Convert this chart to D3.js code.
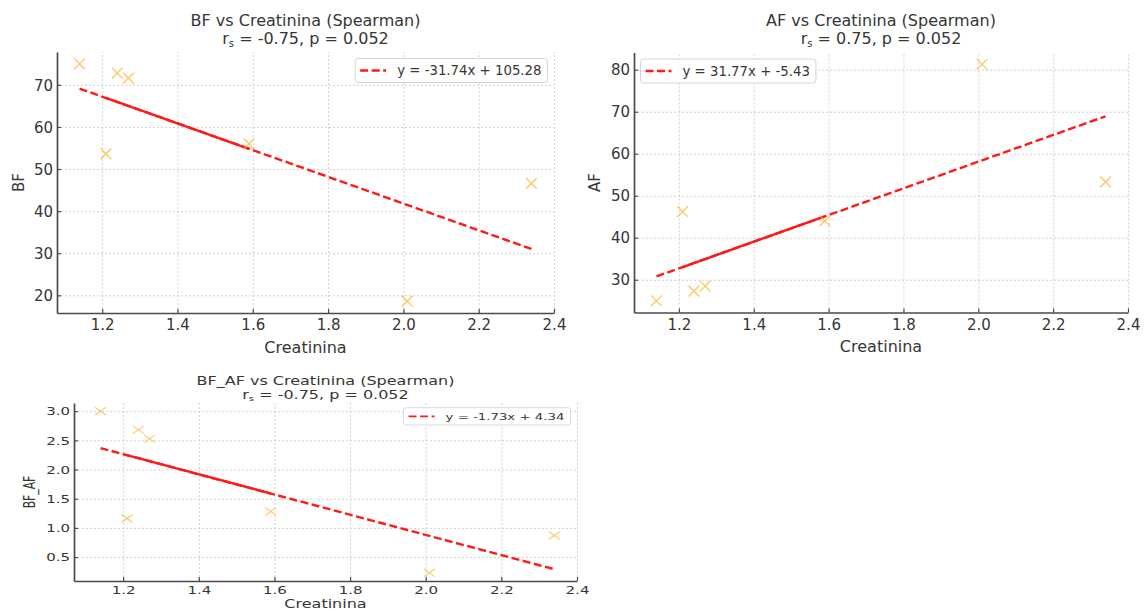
<!DOCTYPE html>
<html>
<head>
<meta charset="utf-8">
<script src="https://cdn.jsdelivr.net/npm/d3@7"></script>
<style>
  body { margin: 0; background: #fff; }
  svg text { font-family: "DejaVu Sans", sans-serif; fill: #363636; }
  .grid line { stroke: #cdcdcd; stroke-dasharray: 2,2; stroke-width: 0.9; }
  .grid .domain { display: none; }
  .axis path { stroke: #4a4a4a; stroke-width: 1.7; }
  .axis line { stroke: #4a4a4a; stroke-width: 1.2; }
</style>
</head>
<body>
<svg id="chart" width="1146" height="611"></svg>
<script>
// values
const creatinina = [1.14, 1.21, 1.24, 1.27, 1.59, 2.01, 2.34];
const bf = [75.0, 53.6, 72.8, 71.6, 56.0, 18.6, 46.6];
const af = [25.0, 46.2, 27.3, 28.5, 44.0, 81.3, 53.3];
const bfAf = [3.00, 1.16, 2.68, 2.53, 1.28, 0.23, 0.87];

const seriesNames = ['BF', 'AF', 'BF_AF'];
const slopes = [-31.74, 31.77, -1.73];
const intercepts = [105.28, -5.43, 4.34];
const legendLabels = ['y = -31.74x + 105.28', 'y = 31.77x + -5.43', 'y = -1.73x + 4.34'];
const spearmanR = ['-0.75', '0.75', '-0.75'];
const pValues = ['0.052', '0.052', '0.052'];

const xTicks = [1.2, 1.4, 1.6, 1.8, 2.0, 2.2, 2.4];
const bfTicks = [20, 30, 40, 50, 60, 70];
const afTicks = [30, 40, 50, 60, 70, 80];
const bfAfTicks = [0.5, 1.0, 1.5, 2.0, 2.5, 3.0];
// stretch of the fitted line that looks solid in the picture
const solidRange = [1.21, 1.59];

class ScatterPanel {

  constructor(_config, _data) {
    this.config = {
      parentElement: _config.parentElement,
      box: _config.box,
      xDomain: _config.xDomain,
      yDomain: _config.yDomain,
      yTicks: _config.yTicks,
      yFormat: _config.yFormat,
      squash: _config.squash || 1,
      titleY: _config.titleY,
      yLabelX: _config.yLabelX,
      xLabelY: _config.xLabelY,
      xTickOffset: _config.xTickOffset,
      legendSide: _config.legendSide
    };
    this.data = _data;
    this.initVis();
  }

  // text that follows the vertical squash of the panel
  addText(parent, x, y, str, size, anchor, rotate) {
    let k = this.config.squash;
    return parent.append('text')
        .attr('transform', `translate(${x},${y}) scale(1,${k})` + (rotate ? ' rotate(-90)' : ''))
        .attr('text-anchor', anchor || 'middle')
        .attr('dy', '0.35em')
        .style('font-size', size + 'px')
        .text(str);
  }

  initVis() {
    let vis = this;
    let b = vis.config.box;
    let k = vis.config.squash;

    vis.width = b.right - b.left;
    vis.height = b.bottom - b.top;

    vis.xScale = d3.scaleLinear().domain(vis.config.xDomain).range([0, vis.width]);
    vis.yScale = d3.scaleLinear().domain(vis.config.yDomain).range([vis.height, 0]);

    vis.svg = d3.select(vis.config.parentElement);
    vis.chart = vis.svg.append('g')
        .attr('transform', `translate(${b.left},${b.top})`);

    // gridlines
    vis.chart.append('g')
        .attr('class', 'grid')
        .attr('transform', `translate(0,${vis.height})`)
        .call(d3.axisBottom(vis.xScale).tickValues(xTicks).tickSize(-vis.height).tickFormat(''));
    vis.chart.append('g')
        .attr('class', 'grid')
        .call(d3.axisLeft(vis.yScale).tickValues(vis.config.yTicks).tickSize(-vis.width).tickFormat(''));

    // two-line title in one text element
    let cx = vis.width / 2;
    let gap = (vis.config.titleY[1] - vis.config.titleY[0]) / k;
    let title = vis.addText(vis.chart, cx, vis.config.titleY[0] - b.top, '', 16);
    title.append('tspan').attr('x', 0).text(`${vis.data.name} vs Creatinina (Spearman)`);
    title.append('tspan').attr('x', 0).attr('dy', gap).text('r');
    title.append('tspan').attr('dy', 3).style('font-size', '10px').text('s');
    title.append('tspan').attr('dy', -3).text(` = ${vis.data.r}, p = ${vis.data.p}`);

    // axis titles
    vis.addText(vis.chart, cx, vis.config.xLabelY - b.top, 'Creatinina', 16);
    vis.addText(vis.chart, vis.config.yLabelX - b.left, vis.height / 2, vis.data.name, 15, 'middle', true);

    vis.updateVis();
  }

  updateVis() {
    let vis = this;
    vis.points = vis.data.x.map((x, i) => ({x: x, y: vis.data.y[i]}));
    vis.fit = x => vis.data.slope * x + vis.data.intercept;
    vis.renderVis();
  }

  renderVis() {
    let vis = this;
    let k = vis.config.squash;

    // fitted line, dashed over full data range
    let xExt = d3.extent(vis.data.x);
    let line = d3.line().x(d => vis.xScale(d)).y(d => vis.yScale(vis.fit(d)));
    vis.chart.append('path')
        .attr('d', line(xExt))
        .attr('fill', 'none')
        .attr('stroke', '#ff1a1a')
        .attr('stroke-width', 2.4)
        .attr('stroke-dasharray', '8,3.5');
    vis.chart.append('path')
        .attr('d', line(solidRange))
        .attr('fill', 'none')
        .attr('stroke', '#ff1a1a')
        .attr('stroke-width', 2.4);

    // x markers
    let s = 5.4;
    vis.chart.selectAll('.point')
        .data(vis.points)
        .join('path')
        .attr('class', 'point')
        .attr('transform', d => `translate(${vis.xScale(d.x)},${vis.yScale(d.y)}) scale(1,${k})`)
        .attr('d', `M${-s},${-s}L${s},${s}M${-s},${s}L${s},${-s}`)
        .attr('stroke', '#ffb733')
        .attr('stroke-opacity', 0.8)
        .attr('stroke-width', 1.3)
        .attr('fill', 'none');

    // axes: inward ticks, left and bottom spines only
    vis.xAxisG = vis.chart.append('g')
        .attr('class', 'axis')
        .attr('transform', `translate(0,${vis.height})`)
        .call(d3.axisBottom(vis.xScale).tickValues(xTicks).tickSizeInner(-4).tickSizeOuter(0)
            .tickFormat(d3.format('.1f')));
    vis.xAxisG.selectAll('text')
        .attr('y', null)
        .attr('dy', '0.35em')
        .attr('transform', `translate(0,${vis.config.xTickOffset}) scale(1,${k})`)
        .style('font-size', '15px');

    vis.yAxisG = vis.chart.append('g')
        .attr('class', 'axis')
        .call(d3.axisLeft(vis.yScale).tickValues(vis.config.yTicks).tickSizeInner(-4).tickSizeOuter(0)
            .tickFormat(d3.format(vis.config.yFormat)));
    vis.yAxisG.selectAll('text')
        .attr('x', null)
        .attr('dy', '0.35em')
        .attr('transform', `translate(-4,0) scale(1,${k})`)
        .style('font-size', '15px');
    vis.chart.selectAll('.axis .domain').raise();

    // legend
    let lg = vis.chart.append('g');
    let pad = 6.5;
    let boxH = 24;
    let txt = lg.append('text')
        .attr('text-anchor', 'start')
        .attr('dy', '0.35em')
        .style('font-size', '13.3px')
        .text(vis.data.legend);
    let tw = txt.node().getComputedTextLength();
    let boxW = 5 + 26 + 11 + tw + 6;
    let bx = vis.config.legendSide === 'right' ? vis.width - pad - boxW : pad;
    let by = pad * k;
    lg.attr('transform', `translate(${bx},${by}) scale(1,${k})`);
    lg.insert('rect', 'text')
        .attr('width', boxW)
        .attr('height', boxH)
        .attr('rx', 3)
        .attr('fill', '#fff')
        .attr('fill-opacity', 0.85)
        .attr('stroke', '#d4d4d4');
    lg.append('line')
        .attr('x1', 5).attr('x2', 31)
        .attr('y1', boxH / 2).attr('y2', boxH / 2)
        .attr('stroke', '#ff1a1a')
        .attr('stroke-width', 2.4)
        .attr('stroke-dasharray', '8,3.5');
    txt.attr('x', 42).attr('y', boxH / 2);
  }
}

const chartSvg = '#chart';

new ScatterPanel({
  parentElement: chartSvg,
  box: {left: 57, right: 554, top: 52, bottom: 313},
  xDomain: [1.08, 2.40],
  yDomain: [15.8, 77.8],
  yTicks: bfTicks,
  yFormat: 'd',
  titleY: [20.7, 38.3],
  yLabelX: 19,
  xLabelY: 347,
  xTickOffset: 12,
  legendSide: 'right'
}, {name: seriesNames[0], x: creatinina, y: bf, slope: slopes[0], intercept: intercepts[0],
    legend: legendLabels[0], r: spearmanR[0], p: pValues[0]});

new ScatterPanel({
  parentElement: chartSvg,
  box: {left: 634, right: 1128, top: 52.5, bottom: 312.5},
  xDomain: [1.08, 2.40],
  yDomain: [22.2, 84.1],
  yTicks: afTicks,
  yFormat: 'd',
  titleY: [20.7, 38.3],
  yLabelX: 595,
  xLabelY: 346,
  xTickOffset: 12,
  legendSide: 'left'
}, {name: seriesNames[1], x: creatinina, y: af, slope: slopes[1], intercept: intercepts[1],
    legend: legendLabels[1], r: spearmanR[1], p: pValues[1]});

new ScatterPanel({
  parentElement: chartSvg,
  box: {left: 74, right: 577, top: 403, bottom: 581},
  xDomain: [1.07, 2.40],
  yDomain: [0.09, 3.14],
  yTicks: bfAfTicks,
  yFormat: '.1f',
  squash: 0.72,
  titleY: [381, 395],
  yLabelX: 30,
  xLabelY: 604,
  xTickOffset: 9,
  legendSide: 'right'
}, {name: seriesNames[2], x: creatinina, y: bfAf, slope: slopes[2], intercept: intercepts[2],
    legend: legendLabels[2], r: spearmanR[2], p: pValues[2]});
</script>
</body>
</html>
